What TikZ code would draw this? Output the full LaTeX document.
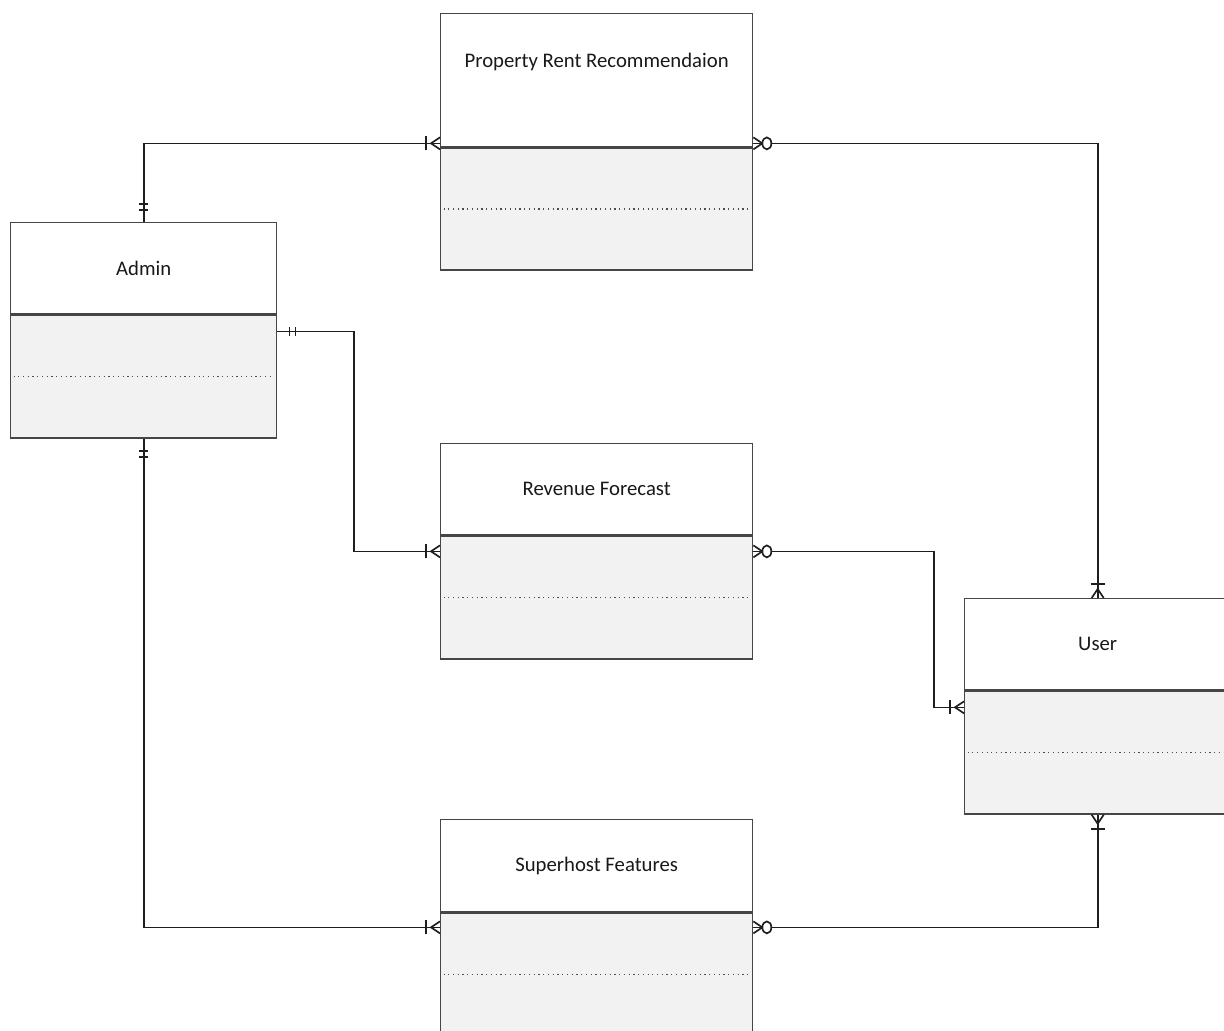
\documentclass[tikz,border=0pt]{standalone}
\usepackage{fontspec}
\setmainfont{Carlito}
\usepackage{tikz}
\usetikzlibrary{calc,positioning}
\definecolor{bodyg}{RGB}{242,242,242}
\definecolor{edgeg}{RGB}{70,70,70}
\definecolor{linek}{RGB}{30,30,30}
\tikzset{
  hdr/.style={rectangle,draw=edgeg,fill=white,line width=0.8pt,inner sep=0pt,
    font=\fontsize{11.8}{14}\selectfont,text=black!90},
  bdy/.style={rectangle,draw=edgeg,fill=bodyg,line width=0.8pt,inner sep=0pt},
  dotln/.style={dotted,line width=0.7pt,black!70,shorten <=2pt,shorten >=2pt},
  rel/.style={line width=0.95pt,linek},
  mk/.style={line width=0.95pt,linek},
  wide/.style={minimum width=6.24cm},
  narrow/.style={minimum width=5.32cm},
}
% crow's foot ends, drawn at the entity side, pointing away along the angle
\newcommand{\OneMany}[2]{%
  \begin{scope}[shift={(#1)},rotate=#2]
    \draw[mk] (14,-7)--(14,7); \draw[mk] (0,6)--(9,0)--(0,-6);
  \end{scope}}
\newcommand{\ZeroMany}[2]{%
  \begin{scope}[shift={(#1)},rotate=#2]
    \draw[mk] (0,6)--(9,0)--(0,-6);
    \draw[mk,fill=white] (13.5,0) ellipse[x radius=4.5,y radius=6];
  \end{scope}}
\newcommand{\OneOnly}[2]{%
  \begin{scope}[shift={(#1)},rotate=#2]
    \draw[mk] (12,-4.5)--(12,4.5); \draw[mk] (18,-4.5)--(18,4.5);
  \end{scope}}

\begin{document}
\begin{tikzpicture}[x=0.02cm,y=-0.02cm]
  \useasboundingbox (0,0) rectangle (1224,1031);
  \clip (0,0) rectangle (1224,1031);
  % entities
  \node[hdr,wide,anchor=north west,minimum height=2.66cm,
    text height=0.3cm,text depth=0.8cm] (prr) at (440,13) {Property Rent Recommendaion};
  \node[bdy,wide,below=0pt of prr,minimum height=2.44cm] (prrb) {};
  \node[hdr,narrow,anchor=north west,minimum height=1.82cm] (adm) at (10,222) {Admin};
  \node[bdy,narrow,below=0pt of adm,minimum height=2.46cm] (admb) {};
  \node[hdr,wide,anchor=north west,minimum height=1.82cm] (rf) at (440,443) {Revenue Forecast};
  \node[bdy,wide,below=0pt of rf,minimum height=2.46cm] (rfb) {};
  \node[hdr,narrow,anchor=north west,minimum height=1.82cm] (usr) at (964,598) {User};
  \node[bdy,narrow,below=0pt of usr,minimum height=2.46cm] (usrb) {};
  \node[hdr,wide,anchor=north west,minimum height=1.84cm] (sf) at (440,819) {Superhost Features};
  \node[bdy,wide,below=0pt of sf,minimum height=2.46cm] (sfb) {};
  \foreach \b in {prrb,admb,rfb,usrb,sfb}
    \draw[dotln] (\b.west) -- (\b.east);
  % connection points
  \coordinate (k1) at (354,0);  \coordinate (k2) at (934,0);
  \coordinate (p1) at ($(prrb.north west)+(0,-4)$);
  \coordinate (p2) at ($(prrb.north east)+(0,-4)$);
  \coordinate (a1) at ($(admb.north east)+(0,17)$);
  \coordinate (r1) at ($(rfb.north west)+(0,16)$);
  \coordinate (r2) at ($(rfb.north east)+(0,16)$);
  \coordinate (u1) at ($(usrb.north west)+(0,17)$);
  \coordinate (s1) at ($(sfb.north west)+(0,15)$);
  \coordinate (s2) at ($(sfb.north east)+(0,15)$);
  % relationships
  \draw[rel] (adm.north) |- (p1);
  \draw[rel] (p2) -| (usr.north);
  \draw[rel] (a1) -- (a1 -| k1) |- (r1);
  \draw[rel] (r2) -- (r2 -| k2) |- (u1);
  \draw[rel] (admb.south) |- (s1);
  \draw[rel] (s2) -| (usrb.south);
  \OneOnly{adm.north}{90}     \OneMany{p1}{180}
  \ZeroMany{p2}{0}             \OneMany{usr.north}{90}
  \OneOnly{a1}{0}              \OneMany{r1}{180}
  \ZeroMany{r2}{0}             \OneMany{u1}{180}
  \OneOnly{admb.south}{270}    \OneMany{s1}{180}
  \ZeroMany{s2}{0}             \OneMany{usrb.south}{270}
\end{tikzpicture}
\end{document}
